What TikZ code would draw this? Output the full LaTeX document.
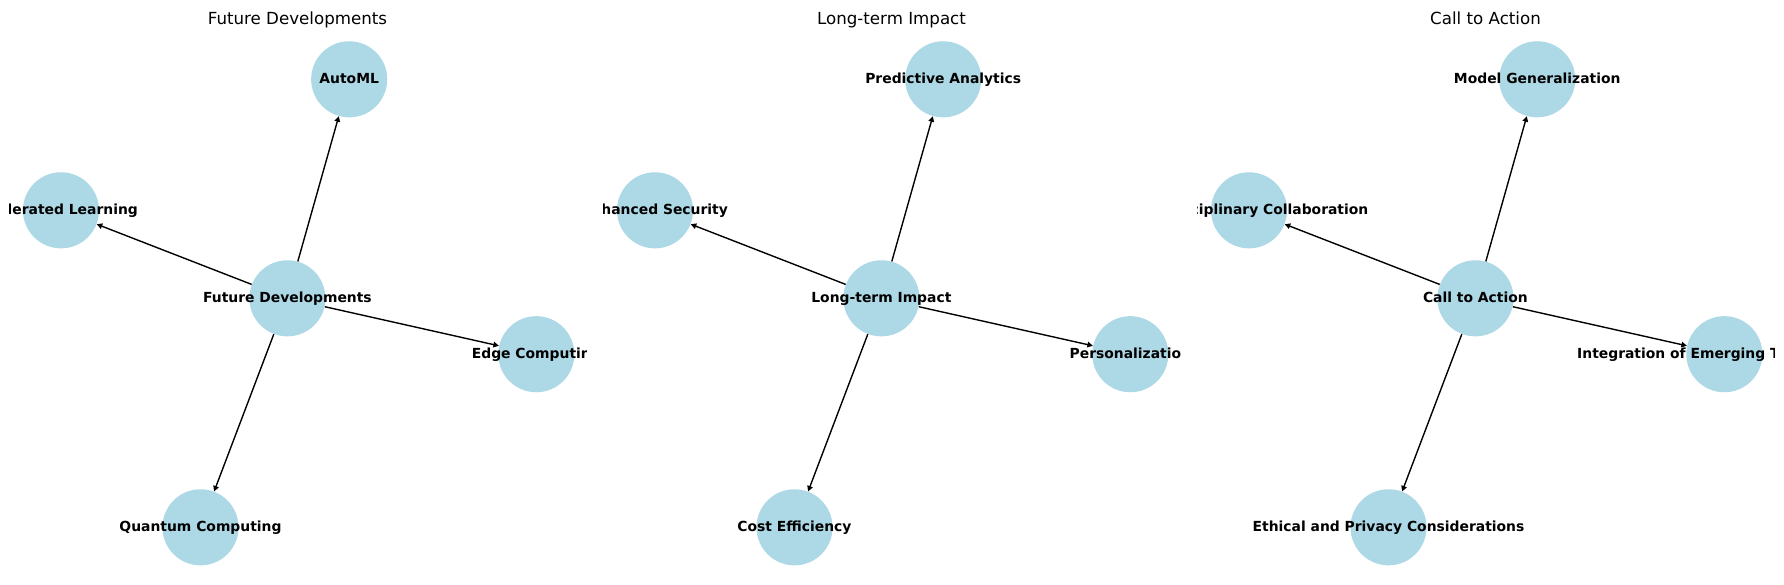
\documentclass[tikz,border=0pt]{standalone}
\usepackage{fontspec}
\setmainfont{DejaVu Sans}
\usetikzlibrary{arrows.meta}
\definecolor{lightblue}{RGB}{173,216,230}

\begin{document}
\begin{tikzpicture}[
    x=0.72pt, y=-0.72pt,
    bubble/.style={circle, fill=lightblue, minimum size=54.8pt, inner sep=0pt},
    bubbletext/.style={anchor=base, yshift=-2.8pt, inner sep=0pt,
      font=\fontsize{10}{12}\selectfont\bfseries},
    paneltitle/.style={anchor=base, inner sep=0pt,
      font=\fontsize{12}{14}\selectfont},
    link/.style={-{Triangle[length=4pt, width=4pt]}, line width=1pt, black}]

  \useasboundingbox (0,0) rectangle (1784,584);

  \foreach [count=\k] \dx/\ttl/\nup/\nlt/\nrt/\ndn in {
      0/Future Developments/AutoML/Federated Learning/Edge Computing/Quantum Computing,
      594/Long-term Impact/Predictive Analytics/Enhanced Security/Personalization/Cost Efficiency,
      1188/Call to Action/Model Generalization/Interdisciplinary Collaboration/Integration of Emerging Technologies/Ethical and Privacy Considerations}{%

    % Title
    \node [paneltitle] (title\k) at (297.5+\dx, 24) {\ttl};

    \begin{scope}
      \clip (9+\dx, 31) rectangle (586+\dx, 578);

      % Draw nodes
      \node [bubble] (mid\k) at (287.4+\dx, 298.3) {};
      \node [bubble] (up\k)  at (349.2+\dx, 79.3) {};
      \node [bubble] (lt\k)  at (61+\dx, 210.3) {};
      \node [bubble] (rt\k)  at (536.3+\dx, 354.2) {};
      \node [bubble] (dn\k)  at (200.5+\dx, 527.3) {};

      % Draw edges
      \foreach \side in {up,lt,rt,dn}
        \draw [link] (mid\k) -- (\side\k);

      % Labels
      \node [bubbletext] (midtxt\k) at (mid\k) {\ttl};
      \node [bubbletext] (uptxt\k)  at (up\k)  {\nup};
      \node [bubbletext] (lttxt\k)  at (lt\k)  {\nlt};
      \node [bubbletext] (rttxt\k)  at (rt\k)  {\nrt};
      \node [bubbletext] (dntxt\k)  at (dn\k)  {\ndn};
    \end{scope}
  }

\end{tikzpicture}
\end{document}
